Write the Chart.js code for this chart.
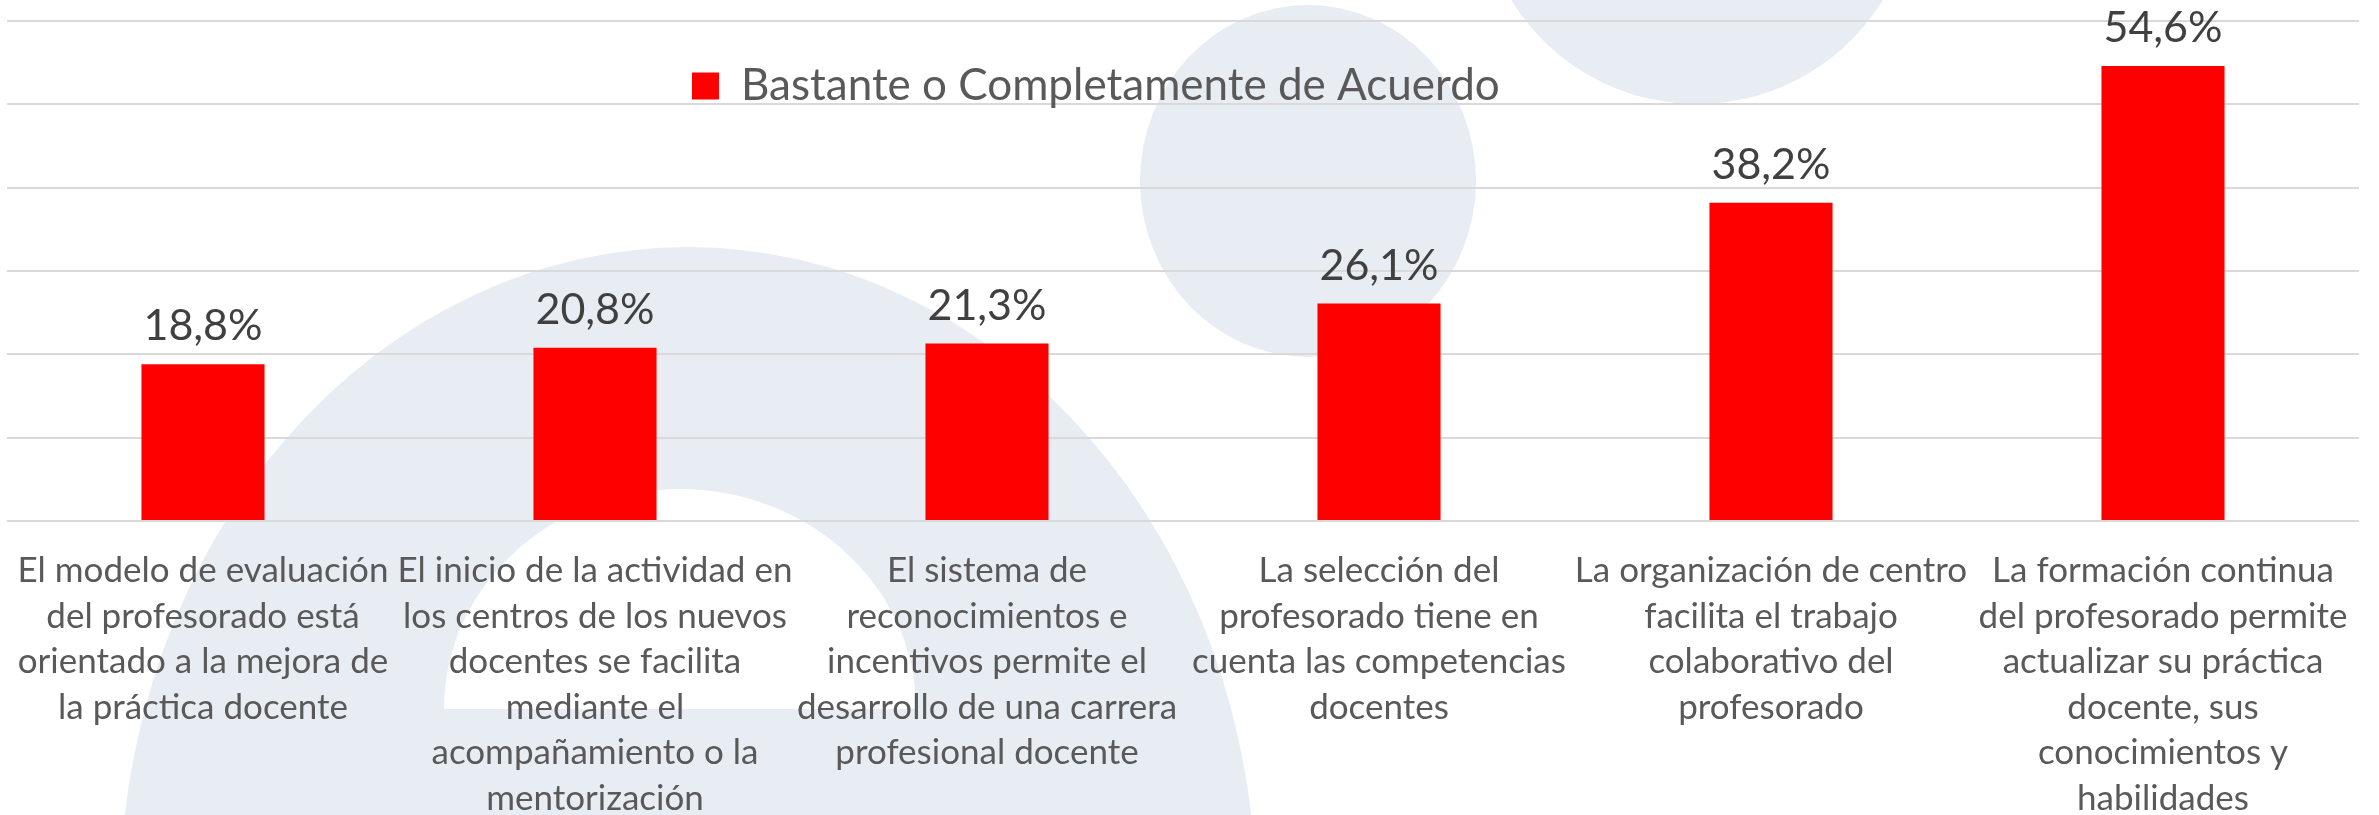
<!DOCTYPE html>
<html>
<head>
<meta charset="utf-8">
<script src="https://cdn.jsdelivr.net/npm/chart.js@4.4.1/dist/chart.umd.min.js"></script>
<style>
    html, body { margin: 0; padding: 0; background: #fff; }
    #chartContainer { position: relative; width: 2379px; height: 815px; }
</style>
</head>
<body>
<div id="chartContainer"><canvas id="myChart"></canvas></div>
<script>
// Data ///////////////////////////////////////////////////////////////////
var seriesLabel = 'Bastante o Completamente de Acuerdo';
var categories = [
    ['El modelo de evaluación', 'del profesorado está', 'orientado a la mejora de', 'la práctica docente'],
    ['El inicio de la actividad en', 'los centros de los nuevos', 'docentes se facilita', 'mediante el', 'acompañamiento o la', 'mentorización'],
    ['El sistema de', 'reconocimientos e', 'incentivos permite el', 'desarrollo de una carrera', 'profesional docente'],
    ['La selección del', 'profesorado tiene en', 'cuenta las competencias', 'docentes'],
    ['La organización de centro', 'facilita el trabajo', 'colaborativo del', 'profesorado'],
    ['La formación continua', 'del profesorado permite', 'actualizar su práctica', 'docente, sus', 'conocimientos y', 'habilidades']
];
var values = [18.8, 20.8, 21.3, 26.1, 38.2, 54.6];
var yMin = 0, yMax = 60, yStep = 10;

// Plugins ////////////////////////////////////////////////////////////////
// light watermark shapes behind the plot
var backgroundShapes = {
    id: 'backgroundShapes',
    beforeDraw: function (chart) {
        var ctx = chart.ctx;
        ctx.save();
        ctx.fillStyle = '#E8EDF3';
        ctx.beginPath();
        ctx.ellipse(688, 900, 568, 653, 0, 0, Math.PI * 2);
        ctx.fill();
        ctx.beginPath();
        ctx.ellipse(1308, 181, 168, 176, 0, 0, Math.PI * 2);
        ctx.fill();
        ctx.beginPath();
        ctx.ellipse(1697, -114, 218, 218, 0, 0, Math.PI * 2);
        ctx.fill();
        // inner hole of the big shape
        ctx.fillStyle = '#FFFFFF';
        ctx.beginPath();
        ctx.ellipse(680, 709, 236, 220, 0, Math.PI, Math.PI * 2);
        ctx.closePath();
        ctx.fill();
        ctx.restore();
    }
};

// move the legend inside the plot area, like the original
var legendMover = {
    id: 'legendMover',
    afterLayout: function (chart) {
        var lg = chart.legend;
        if (!lg) return;
        var pad = lg.options.labels.padding;
        var w = lg.right - lg.left, h = lg.bottom - lg.top;
        lg.left = 692 - pad;
        lg.top = 64 - pad;
        lg.right = lg.left + w;
        lg.bottom = lg.top + h;
    }
};

// value labels above each bar
var valueLabels = {
    id: 'valueLabels',
    afterDatasetsDraw: function (chart) {
        var ctx = chart.ctx;
        var meta = chart.getDatasetMeta(0);
        ctx.save();
        ctx.font = '43px Lato';
        ctx.fillStyle = '#404040';
        ctx.textAlign = 'center';
        ctx.textBaseline = 'alphabetic';
        meta.data.forEach(function (bar, i) {
            var txt = values[i].toFixed(1).replace('.', ',') + '%';
            ctx.fillText(txt, bar.x, bar.y - 24);
        });
        ctx.restore();
    }
};

var ctx = document.getElementById('myChart').getContext('2d');
var chart = new Chart(ctx, {
    type: 'bar',
    data: {
        labels: categories,
        datasets: [{
            label: seriesLabel,
            data: values,
            backgroundColor: '#FF0000',
            borderWidth: 0,
            categoryPercentage: 1,
            barPercentage: 0.314
        }]
    },
    plugins: [backgroundShapes, legendMover, valueLabels],
    options: {
        responsive: true,
        maintainAspectRatio: false,
        animation: false,
        layout: { padding: { left: 7, right: 20, top: 21, bottom: 0 } },
        plugins: {
            tooltip: { enabled: false },
            legend: {
                position: 'chartArea',
                align: 'start',
                labels: {
                    boxWidth: 27,
                    boxHeight: 27,
                    color: '#595959',
                    font: { family: 'Lato', size: 44 }
                }
            }
        },
        scales: {
            x: {
                grid: { display: false, drawTicks: false },
                border: { display: false },
                ticks: {
                    color: '#595959',
                    padding: 27,
                    maxRotation: 0,
                    autoSkip: false,
                    font: { family: 'Lato', size: 35, lineHeight: '45.5px' }
                },
                afterFit: function (scale) {
                    scale.height = 294;
                    scale.paddingLeft = 0;
                    scale.paddingRight = 0;
                }
            },
            y: {
                min: yMin,
                max: yMax,
                ticks: { display: false, stepSize: yStep },
                grid: { color: '#D9D9D9', lineWidth: 2, drawTicks: false },
                border: { display: false }
            }
        }
    }
});
</script>
</body>
</html>
